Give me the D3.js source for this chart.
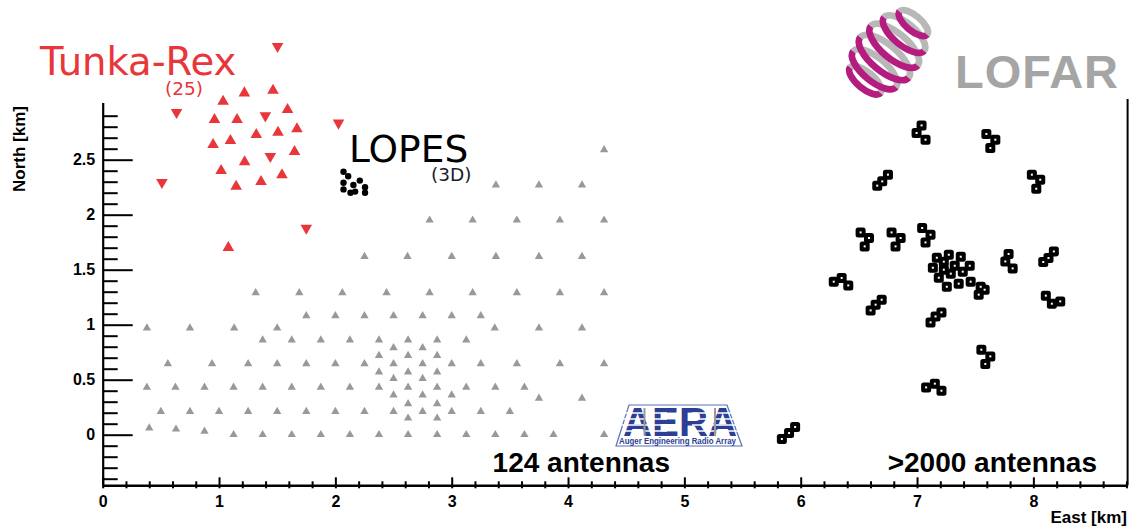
<!DOCTYPE html>
<html><head><meta charset="utf-8">
<script src="https://cdn.jsdelivr.net/npm/d3@7/dist/d3.min.js"></script>
<style>body{margin:0;background:#fff}svg{display:block}</style>
</head><body>
<svg id="c" width="1130" height="526"></svg>
<script>
// ---------------- data (km) ----------------
const xMajorTicks = [0,1,2,3,4,5,6,7,8];
const yMajorTicks = [0,0.5,1,1.5,2,2.5];
const xMinorTicks = d3.range(0.2, 8.81, 0.2).map(v => +v.toFixed(1)).filter(v => Math.abs(v - Math.round(v)) > 1e-6);
const yMinorTicks = d3.range(-0.4, 3.0, 0.1).map(v => +v.toFixed(1)).filter(v => Math.abs(v*2 - Math.round(v*2)) > 1e-6);

// AERA (124 antennas) [east, north]
const aeraAntennas = [
 [4.31,2.59],
 [3.38,2.27],[3.75,2.27],[4.12,2.27],
 [2.81,1.95],[3.18,1.95],[3.56,1.95],[3.93,1.95],[4.31,1.95],
 [2.25,1.62],[2.62,1.62],[3.0,1.62],[3.38,1.62],[3.75,1.62],[4.12,1.62],
 [1.315,1.29],[1.69,1.29],[2.06,1.29],[2.44,1.29],[2.81,1.29],[3.18,1.29],[3.56,1.29],[3.93,1.29],[4.31,1.29],
 [1.75,1.08],[2.0,1.08],[2.25,1.08],[2.5,1.08],[2.75,1.08],[3.0,1.08],[3.25,1.08],
 [0.38,0.97],[0.75,0.97],[1.13,0.97],[1.5,0.97],[3.37,0.97],[3.75,0.97],[4.12,0.97],
 [1.375,0.86],[1.625,0.86],[1.875,0.86],[2.125,0.86],[2.375,0.86],[2.625,0.86],[2.875,0.86],[3.125,0.86],
 [2.5,0.79],[2.75,0.79],
 [2.375,0.72],[2.625,0.72],[2.875,0.72],
 [0.56,0.645],[0.94,0.645],[1.25,0.645],[1.5,0.645],[1.75,0.645],[2.0,0.645],[2.25,0.645],[2.5,0.645],[2.75,0.645],[3.0,0.645],[3.25,0.645],[3.56,0.645],[3.93,0.645],[4.31,0.645],
 [2.375,0.57],[2.625,0.57],[2.875,0.57],
 [2.5,0.51],[2.75,0.51],
 [0.38,0.43],[0.625,0.43],[0.875,0.43],[1.125,0.43],[1.375,0.43],[1.625,0.43],[1.875,0.43],[2.125,0.43],[2.375,0.43],[2.625,0.43],[2.875,0.43],[3.125,0.43],[3.375,0.43],[3.625,0.43],
 [2.5,0.36],[2.75,0.36],[3.0,0.36],
 [3.75,0.33],[4.12,0.33],
 [2.625,0.28],[2.875,0.28],
 [0.5,0.21],[0.75,0.21],[1.0,0.21],[1.25,0.21],[1.5,0.21],[1.75,0.21],[2.0,0.21],[2.25,0.21],[2.5,0.21],[2.75,0.21],[3.0,0.21],[3.25,0.21],[3.5,0.21],
 [2.625,0.15],[2.875,0.15],
 [0.40,0.06],[0.63,0.05],[0.875,0.03],
 [1.125,0.0],[1.375,0.0],[1.625,0.0],[1.875,0.0],[2.125,0.0],[2.375,0.0],[2.625,0.0],[2.875,0.0],[3.125,0.0],[3.375,0.0],[3.625,0.0],[3.875,0.0],[4.31,0.0]
];

// Tunka-Rex (25): upward and downward triangles
const tunkaUp = [
 [1.035,3.03],[1.218,3.106],[1.464,3.13],[1.589,2.955],[0.961,2.864],[1.155,2.864],
 [1.67,2.78],[1.32,2.727],[1.507,2.748],[0.949,2.636],[1.098,2.673],[1.649,2.573],
 [1.22,2.479],[1.018,2.40],[1.541,2.361],[1.361,2.30],[1.147,2.257],[1.08,1.70]
];
const tunkaDown = [
 [1.503,3.53],[0.635,2.93],[1.398,2.90],[2.027,2.834],[1.441,2.53],[0.509,2.294],[1.75,1.879]
];

// LOPES (3D)
const lopes = [
 [2.07,2.39],[2.11,2.35],[2.21,2.31],[2.155,2.27],[2.07,2.29],
 [2.07,2.23],[2.17,2.21],[2.255,2.25],[2.255,2.20],[2.13,2.20]
];

// LOFAR (>2000 antennas) station positions
const lofar = [
 [7.039,2.812],[6.996,2.743],[7.073,2.682],
 [7.596,2.734],[7.673,2.682],[7.630,2.606],
 [6.750,2.364],[6.701,2.303],[6.658,2.264],
 [7.987,2.364],[8.059,2.318],[8.025,2.236],
 [6.515,1.839],[6.587,1.788],[6.550,1.712],
 [6.781,1.839],[6.859,1.788],[6.815,1.712],
 [7.044,1.879],[7.116,1.818],[7.073,1.748],
 [7.787,1.643],[7.759,1.575],[7.822,1.512],
 [8.176,1.666],[8.130,1.606],[8.085,1.570],
 [6.284,1.391],[6.352,1.425],[6.409,1.357],
 [6.601,1.130],[6.644,1.182],[6.696,1.227],
 [7.116,1.021],[7.159,1.075],[7.210,1.112],
 [8.107,1.264],[8.159,1.191],[8.231,1.212],
 [7.553,0.773],[7.630,0.712],[7.587,0.643],
 [7.078,0.430],[7.153,0.464],[7.210,0.400],
 [5.838,-0.039],[5.900,0.015],[5.952,0.070],
 [7.273,1.636],[7.376,1.618],[7.453,1.536],[7.136,1.518],[7.230,1.573],[7.324,1.536],
 [7.187,1.427],[7.290,1.464],[7.393,1.482],[7.256,1.345],[7.358,1.373],[7.461,1.391],
 [7.547,1.345],[7.530,1.273],[7.581,1.318],[7.230,1.50],[7.170,1.609]
];

// ---------------- drawing ----------------
const svg = d3.select("#c");
const x = d3.scaleLinear().domain([0, 8.81]).range([102.7, 1127.6]);
const y = d3.scaleLinear().domain([-0.46, 3.02]).range([485.3, 102.5]);
const FONT = "'Liberation Sans', Arial, Helvetica, sans-serif";

// right frame line
svg.append("line").attr("x1", x(8.81)).attr("x2", x(8.81)).attr("y1", 99).attr("y2", y(-0.46))
  .attr("stroke","#000").attr("stroke-width",2);

// Y axis
const gyMinor = svg.append("g").attr("transform", `translate(${x(0)},0)`)
  .call(d3.axisLeft(y).tickValues(yMinorTicks).tickSize(-15).tickFormat(""));
gyMinor.select(".domain").remove();
const gy = svg.append("g").attr("transform", `translate(${x(0)},0)`)
  .call(d3.axisLeft(y).tickValues(yMajorTicks).tickSize(-30).tickSizeOuter(0).tickPadding(7.5).tickFormat(d => String(d)));
svg.selectAll("g line").attr("stroke","#000").attr("stroke-width",2);
gy.select(".domain").attr("stroke","#000").attr("stroke-width",2.2);
gy.selectAll("text").attr("font-family",FONT).attr("font-weight","bold").attr("font-size",16).attr("fill","#000");

// X axis
const gxMinor = svg.append("g").attr("transform", `translate(0,${y(-0.46)})`)
  .call(d3.axisBottom(x).tickValues(xMinorTicks).tickSize(0).tickFormat(""));
gxMinor.select(".domain").remove();
gxMinor.selectAll("line").attr("y1",3).attr("y2",-4).attr("stroke","#000").attr("stroke-width",2);
const gx = svg.append("g").attr("transform", `translate(0,${y(-0.46)})`)
  .call(d3.axisBottom(x).tickValues(xMajorTicks).tickSize(0).tickSizeOuter(0).tickPadding(10).tickFormat(d => String(d)));
gx.selectAll("line").attr("y1",3).attr("y2",-8).attr("stroke","#000").attr("stroke-width",2);
gx.select(".domain").attr("stroke","#000").attr("stroke-width",2.5);
gx.selectAll("text").attr("font-family",FONT).attr("font-weight","bold").attr("font-size",16).attr("fill","#000");

// axis titles
svg.append("text").attr("transform","translate(25,106) rotate(-90)").attr("text-anchor","end")
  .attr("font-family",FONT).attr("font-weight","bold").attr("font-size",17).text("North [km]");
svg.append("text").attr("x",1127).attr("y",523).attr("text-anchor","end")
  .attr("font-family",FONT).attr("font-weight","bold").attr("font-size",17).text("East [km]");

// AERA triangles
const triGrey = d3.symbol().type(d3.symbolTriangle).size(30);
svg.append("g").selectAll("path").data(aeraAntennas).join("path")
  .attr("d", triGrey).attr("fill","#999")
  .attr("transform", d => `translate(${x(d[0])},${y(d[1])})`);

// Tunka-Rex
const RED = "#e8363a";
const triRed = d3.symbol().type(d3.symbolTriangle).size(58);
svg.append("g").selectAll("path").data(tunkaUp).join("path")
  .attr("d", triRed).attr("fill",RED)
  .attr("transform", d => `translate(${x(d[0])},${y(d[1])})`);
svg.append("g").selectAll("path").data(tunkaDown).join("path")
  .attr("d", triRed).attr("fill",RED)
  .attr("transform", d => `translate(${x(d[0])},${y(d[1])}) rotate(180)`);

// LOPES
svg.append("g").selectAll("circle").data(lopes).join("circle")
  .attr("cx", d => x(d[0])).attr("cy", d => y(d[1])).attr("r",3.2).attr("fill","#000");

// LOFAR squares (thick open squares: black body, tiny white centre)
const lg = svg.append("g");
lg.selectAll("rect.o").data(lofar).join("rect").attr("class","o")
  .attr("x", d => x(d[0]) - 5).attr("y", d => y(d[1]) - 5).attr("width",10).attr("height",10)
  .attr("rx",2.5).attr("fill","#000");
lg.selectAll("rect.i").data(lofar).join("rect").attr("class","i")
  .attr("x", d => x(d[0]) - 1).attr("y", d => y(d[1]) - 1).attr("width",2).attr("height",2)
  .attr("fill","#fff");

// Labels
svg.append("text").attr("x",40).attr("y",75).attr("font-family","'DejaVu Sans', sans-serif")
  .attr("font-size",38.5).attr("fill",RED).text("Tunka-Rex");
svg.append("text").attr("x",165).attr("y",94.5).attr("font-family","'DejaVu Sans', sans-serif")
  .attr("font-size",18.5).attr("fill",RED).text("(25)");
svg.append("text").attr("x",349).attr("y",161.5).attr("font-family","'DejaVu Sans', sans-serif")
  .attr("font-size",37.5).attr("fill","#000").text("LOPES");
svg.append("text").attr("x",431).attr("y",181).attr("font-family","'DejaVu Sans', sans-serif")
  .attr("font-size",18.5).attr("fill","#1b1b2b").text("(3D)");
svg.append("text").attr("x",670).attr("y",472).attr("text-anchor","end").attr("font-family",FONT)
  .attr("font-weight","bold").attr("font-size",28).text("124 antennas");
svg.append("text").attr("x",1097).attr("y",472).attr("text-anchor","end").attr("font-family",FONT)
  .attr("font-weight","bold").attr("font-size",28).text(">2000 antennas");

// AERA logo
const aera = svg.append("g");
const BLUE = "#2d3f94";
aera.append("path").attr("d","M629,405 L727,405 L742,446 L616,446 Z").attr("fill","#fff")
  .attr("stroke","#5a70b8").attr("stroke-width",1.2);
aera.append("text").attr("x",623).attr("y",435.5).attr("font-family",FONT).attr("font-weight","bold")
  .attr("font-size",40).attr("fill",BLUE).attr("textLength",114).attr("lengthAdjust","spacingAndGlyphs").text("AERA");
[413,419,425,431].forEach(yy => {
  aera.append("line").attr("x1",622).attr("x2",667).attr("y1",yy).attr("y2",yy).attr("stroke","#fff").attr("stroke-width",1.6);
  aera.append("line").attr("x1",692).attr("x2",738).attr("y1",yy).attr("y2",yy).attr("stroke","#fff").attr("stroke-width",1.6);
});
[644.5,715].forEach(xx => aera.append("line").attr("x1",xx).attr("x2",xx).attr("y1",408).attr("y2",436)
  .attr("stroke","#9a9a9a").attr("stroke-width",2));
aera.append("text").attr("x",619).attr("y",443.5).attr("font-family",FONT).attr("font-weight","bold")
  .attr("font-size",9).attr("fill",BLUE).attr("textLength",117).attr("lengthAdjust","spacingAndGlyphs")
  .text("Auger Engineering Radio Array");

// LOFAR logo
const logo = svg.append("g").attr("transform","translate(889,52) rotate(40) scale(0.9)");
const rings = [[-42,20],[-26,29],[-9,34],[8,35],[25,31],[41,22]];
rings.forEach(([cy,r]) => {
  const ry = r*0.42;
  logo.append("path").attr("d",`M${-r},${cy} A${r},${ry} 0 0 1 ${r},${cy}`)
    .attr("fill","none").attr("stroke","#b8b8b8").attr("stroke-width",7.5);
});
rings.forEach(([cy,r]) => {
  const ry = r*0.42;
  logo.append("path").attr("d",`M${-r},${cy} A${r},${ry} 0 0 0 ${r},${cy}`)
    .attr("fill","none").attr("stroke","#b51c80").attr("stroke-width",7.5);
});
svg.append("text").attr("x",955).attr("y",88).attr("font-family",FONT).attr("font-weight","bold").attr("font-size",47)
  .attr("fill","#a5a5a5").attr("textLength",163).attr("lengthAdjust","spacing").text("LOFAR");
</script>
</body></html>
